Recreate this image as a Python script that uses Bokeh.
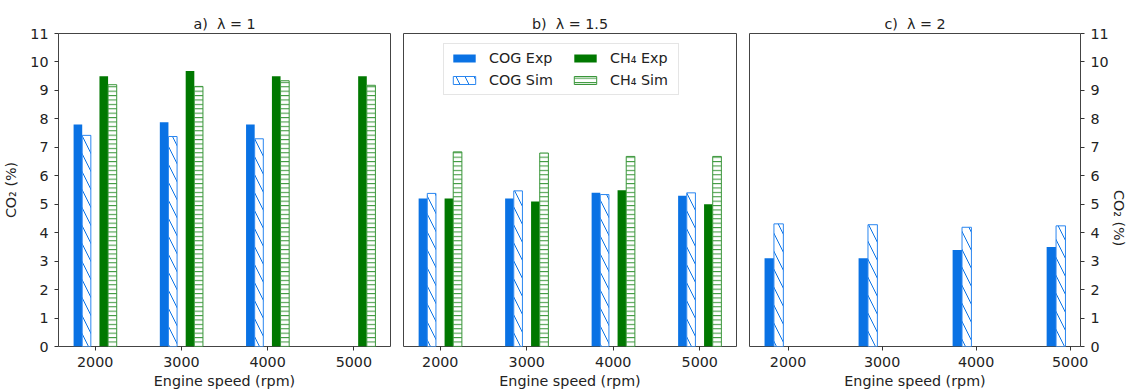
from bokeh.plotting import figure
from bokeh.layouts import row
from bokeh.models import FixedTicker, LinearAxis, Legend, LegendItem, Range1d
from bokeh.embed import file_html
from bokeh.resources import INLINE

# ---------------- data ----------------
speeds = [2000, 3000, 4000, 5000]
x_ticks = [2000, 3000, 4000, 5000]
y_ticks = list(range(0, 12))
titles = ["a)\u00a0 λ = 1", "b)\u00a0 λ = 1.5", "c)\u00a0 λ = 2"]

# panel a (lambda = 1)
a_cog_exp = [7.8, 7.88, 7.8, None]
a_cog_sim = [7.42, 7.38, 7.3, None]
a_ch4_exp = [9.5, 9.68, 9.5, 9.5]
a_ch4_sim = [9.2, 9.14, 9.34, 9.18]

# panel b (lambda = 1.5)
b_cog_exp = [5.2, 5.2, 5.4, 5.3]
b_cog_sim = [5.38, 5.47, 5.34, 5.4]
b_ch4_exp = [5.2, 5.1, 5.49, 5.0]
b_ch4_sim = [6.84, 6.8, 6.68, 6.68]

# panel c (lambda = 2)
c_cog_exp = [3.1, 3.1, 3.39, 3.5]
c_cog_sim = [4.31, 4.28, 4.19, 4.24]
c_ch4_exp = [None, None, None, None]
c_ch4_sim = [None, None, None, None]

BLUE = "#0A72E4"
GREEN = "#007800"
FONT = "DejaVu Sans"
FS = "14.3px"
BAR_W = 100
OFFS = [-200, -100, 100, 200]

FRAME_W = 333


def style_axis(ax):
    ax.axis_line_color = None
    ax.major_tick_line_color = "#333333"
    ax.major_tick_in = 0
    ax.major_tick_out = 4
    ax.minor_tick_line_color = None
    ax.major_label_text_font = FONT
    ax.major_label_text_font_size = FS
    ax.major_label_text_color = "#222222"
    ax.axis_label_text_font = FONT
    ax.axis_label_text_font_size = FS
    ax.axis_label_text_font_style = "normal"
    ax.axis_label_text_color = "#222222"
    ax.major_label_standoff = 6
    ax.axis_label_standoff = 3


def make_panel(title, series, xr, left_axis, right_axis, legend, bl, br):
    w = bl + FRAME_W + br
    p = figure(width=w, height=391, output_backend="svg", toolbar_location=None,
               x_range=Range1d(*xr), y_range=Range1d(0, 11),
               min_border_left=bl, min_border_right=br, min_border_top=33,
               min_border_bottom=45, y_axis_location=None)
    p.title.text = title
    p.title.align = "center"
    p.title.text_font = FONT
    p.title.text_font_size = FS
    p.title.text_font_style = "normal"
    p.title.text_color = "#222222"
    p.title.standoff = 3
    p.grid.visible = False
    p.outline_line_color = "#444444"
    p.outline_line_width = 1
    p.background_fill_color = "white"
    p.border_fill_color = "white"

    xa = p.xaxis[0]
    xa.ticker = FixedTicker(ticks=x_ticks)
    xa.axis_label = "Engine speed (rpm)"
    style_axis(xa)

    if left_axis:
        ya = LinearAxis(ticker=FixedTicker(ticks=y_ticks), axis_label="CO₂ (%)")
        style_axis(ya)
        ya.axis_label_standoff = 8
        p.add_layout(ya, "left")
    if right_axis:
        ya = LinearAxis(ticker=FixedTicker(ticks=y_ticks), axis_label="CO₂ (%)")
        style_axis(ya)
        ya.axis_label_standoff = 7
        ya.axis_label_orientation = -1.5708
        p.add_layout(ya, "right")

    renderers = []
    for (vals, kind), off in zip(series, OFFS):
        xs = [s + off for s, v in zip(speeds, vals) if v is not None]
        tops = [v for v in vals if v is not None]
        if kind == "cog_exp":
            kw = dict(fill_color=BLUE, line_color=None)
        elif kind == "cog_sim":
            kw = dict(fill_color="white", line_color="#2A86F0", line_width=1,
                      hatch_pattern="left_diagonal_line", hatch_color=BLUE,
                      hatch_scale=18, hatch_weight=1)
        elif kind == "ch4_exp":
            kw = dict(fill_color=GREEN, line_color=None)
        else:
            kw = dict(fill_color="white", line_color="#3A963A", line_width=1,
                      hatch_pattern="horizontal_line", hatch_color=GREEN,
                      hatch_alpha=0.8, hatch_scale=4.4, hatch_weight=1)
        r = p.vbar(x=xs, top=tops, bottom=0, width=BAR_W, **kw)
        renderers.append(r)

    if legend:
        common = dict(glyph_width=28, glyph_height=10, label_standoff=11,
                      label_text_font=FONT, label_text_font_size=FS,
                      label_text_color="#222222", label_height=14,
                      spacing=6, padding=6, margin=0)
        lg1 = Legend(items=[
            LegendItem(label="COG Exp", renderers=[renderers[0]]),
            LegendItem(label="COG Sim", renderers=[renderers[1]]),
        ], location=(40, 251), label_width=183,
            border_line_color="#cccccc", border_line_width=1,
            background_fill_alpha=1, **common)
        lg2 = Legend(items=[
            LegendItem(label="CH₄ Exp", renderers=[renderers[2]]),
            LegendItem(label="CH₄ Sim", renderers=[renderers[3]]),
        ], location=(168, 258),
            border_line_color=None, background_fill_alpha=0, **common)
        p.add_layout(lg1, "center")
        p.add_layout(lg2, "center")
    return p


pa = make_panel(titles[0],
                [(a_cog_exp, "cog_exp"), (a_cog_sim, "cog_sim"),
                 (a_ch4_exp, "ch4_exp"), (a_ch4_sim, "ch4_sim")],
                (1575, 5425), True, False, False, 57, 6)
pb = make_panel(titles[1],
                [(b_cog_exp, "cog_exp"), (b_cog_sim, "cog_sim"),
                 (b_ch4_exp, "ch4_exp"), (b_ch4_sim, "ch4_sim")],
                (1575, 5425), False, False, True, 7, 6)
pc = make_panel(titles[2],
                [(c_cog_exp, "cog_exp"), (c_cog_sim, "cog_sim"),
                 (c_ch4_exp, "ch4_exp"), (c_ch4_sim, "ch4_sim")],
                (1590, 5110), False, True, False, 7, 55)

layout = row(pa, pb, pc, spacing=0)
open("out.html", "w").write(file_html(layout, INLINE))
